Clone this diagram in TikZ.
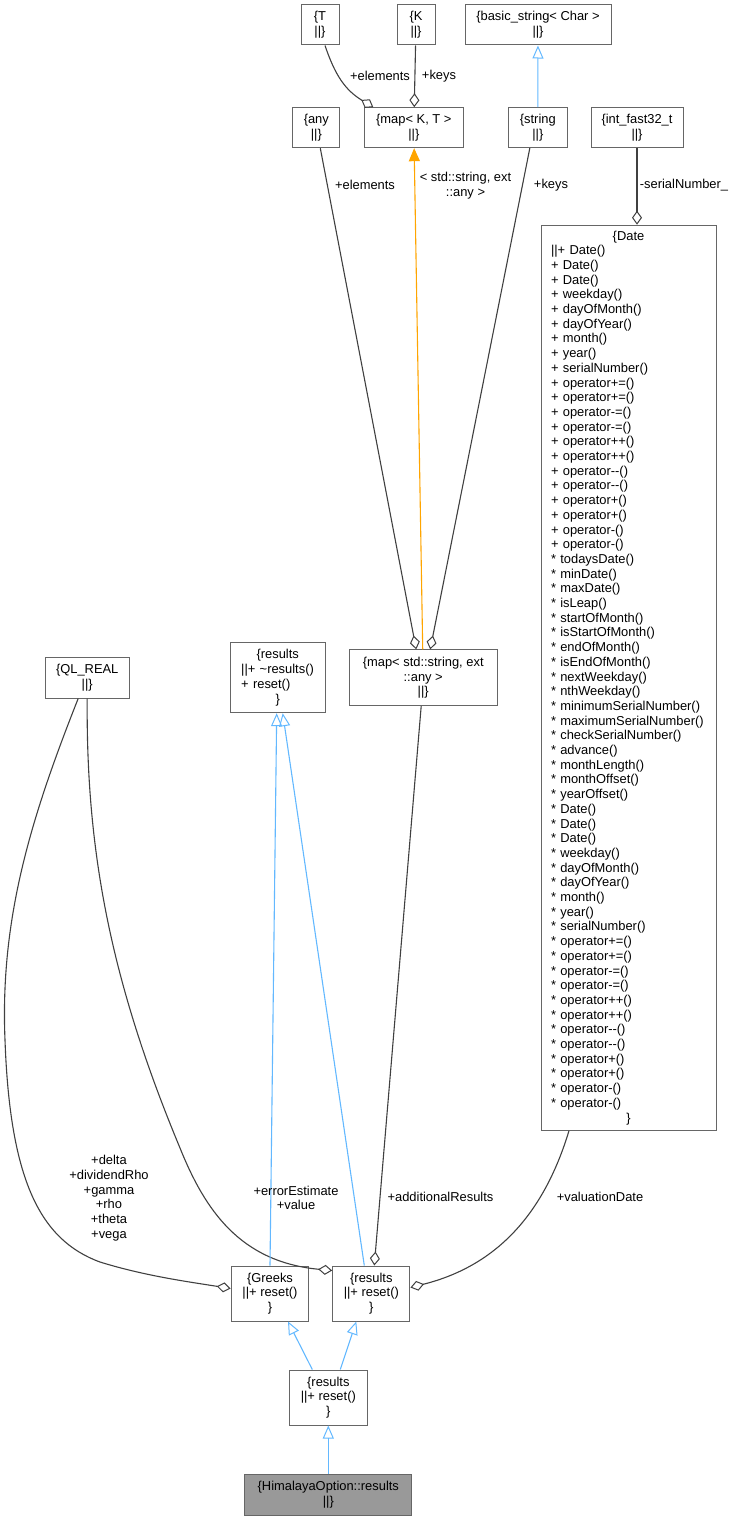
\documentclass[tikz,border=0pt]{standalone}
\usepackage{fontspec}
\setmainfont{Liberation Sans}
\usepackage{xcolor}
\usepackage{tikz}
\usetikzlibrary{
  arrows.meta,
  positioning,
  calc
}
\definecolor{nodeline}{RGB}{102,102,102}
\definecolor{edgegray}{RGB}{64,64,64}
\definecolor{inhblue}{RGB}{99,184,255}
\definecolor{tplorange}{RGB}{255,165,0}
\definecolor{hlfill}{RGB}{153,153,153}
\newcommand{\cenline}[1]{\makebox[\linewidth]{#1}}

\begin{document}
\begin{tikzpicture}[
    x=1pt, y=-1pt,
    clsbox/.style={
        draw=nodeline, fill=white, line width=1pt,
        font=\fontsize{12.9}{14.7}\selectfont,
        align=center, inner sep=0pt
    },
    hlbox/.style={clsbox, fill=hlfill},
    lbl/.style={font=\fontsize{12.9}{14.7}\selectfont, align=center, inner sep=0pt},
    usedge/.style={draw=edgegray, line width=1.1pt,
        -{Diamond[open,length=14pt,width=10pt,line width=1pt]}},
    inhedge/.style={draw=inhblue, line width=1.1pt,
        -{Triangle[open,length=13pt,width=11pt,line width=1pt]}},
    tpledge/.style={draw=tplorange, line width=1.1pt,
        -{Triangle[length=13pt,width=11pt]}}
]
\useasboundingbox (0,0) rectangle (735,1520);
\def\rTop{25}   \def\rSec{127.7}
\def\rMid{677.7}  \def\rLow{1293.5}

\node[clsbox, minimum width=38pt, minimum height=40pt] (T) at (320,\rTop) {\{T\\||\}};

\node[clsbox, minimum width=38pt, minimum height=40pt] (K) at (416,\rTop) {\{K\\||\}};

\node[clsbox, minimum width=146pt, minimum height=40pt] (bstr) at (538,\rTop) {\{basic\_string< Char >\\||\}};

\node[clsbox, minimum width=47pt, minimum height=40pt] (any) at (316.3,\rSec) {\{any\\||\}};

\node[clsbox, minimum width=99pt, minimum height=40pt] (mapKT) at (413.8,\rSec) {\{map< K, T >\\||\}};

\node[clsbox, minimum width=59pt, minimum height=40pt] (string) at (537.8,\rSec) {\{string\\||\}};

\node[clsbox, minimum width=92pt, minimum height=40pt] (int) at (637,\rSec) {\{int\_fast32\_t\\||\}};

\node[clsbox, align=left, text width=155pt, inner xsep=10pt, minimum height=905pt] (Date) at (628.5,\rMid) {%
  \cenline{\{Date}\\
  ||+ Date()\\
  + Date()\\
  + Date()\\
  + weekday()\\
  + dayOfMonth()\\
  + dayOfYear()\\
  + month()\\
  + year()\\
  + serialNumber()\\
  + operator+=()\\
  + operator+=()\\
  + operator-=()\\
  + operator-=()\\
  + operator++()\\
  + operator++()\\
  + operator-{}-()\\
  + operator-{}-()\\
  + operator+()\\
  + operator+()\\
  + operator-()\\
  + operator-()\\
  {*} todaysDate()\\
  {*} minDate()\\
  {*} maxDate()\\
  {*} isLeap()\\
  {*} startOfMonth()\\
  {*} isStartOfMonth()\\
  {*} endOfMonth()\\
  {*} isEndOfMonth()\\
  {*} nextWeekday()\\
  {*} nthWeekday()\\
  {*} minimumSerialNumber()\\
  {*} maximumSerialNumber()\\
  {*} checkSerialNumber()\\
  {*} advance()\\
  {*} monthLength()\\
  {*} monthOffset()\\
  {*} yearOffset()\\
  {*} Date()\\
  {*} Date()\\
  {*} Date()\\
  {*} weekday()\\
  {*} dayOfMonth()\\
  {*} dayOfYear()\\
  {*} month()\\
  {*} year()\\
  {*} serialNumber()\\
  {*} operator+=()\\
  {*} operator+=()\\
  {*} operator-=()\\
  {*} operator-=()\\
  {*} operator++()\\
  {*} operator++()\\
  {*} operator-{}-()\\
  {*} operator-{}-()\\
  {*} operator+()\\
  {*} operator+()\\
  {*} operator-()\\
  {*} operator-()\\
  \cenline{\}}
};

\node[clsbox, minimum width=84pt, minimum height=40.6pt] (QL) at (87.2,\rMid) {\{QL\_REAL\\||\}};

\node[clsbox, align=left, text width=73pt, inner xsep=11pt, minimum height=70pt] (resTop) at (277.7,\rMid) {%
  \cenline{\{results}\\
  ||+ \textasciitilde results()\\
  + reset()\\
  \cenline{\}}
};

\node[clsbox, minimum width=148pt, minimum height=55.7pt] (mapSA) at (423.2,\rMid) {\{map< std::string, ext\\::any >\\||\}};

\node[clsbox, minimum width=77.7pt, minimum height=55pt] (Greeks) at (270,\rLow) {\{Greeks\\||+ reset()\\\}};

\node[clsbox, minimum width=77.3pt, minimum height=55pt] (resM) at (371.3,\rLow) {\{results\\||+ reset()\\\}};

\node[clsbox, minimum width=78pt, minimum height=55pt] (resL) at (328.3,1397.5) {\{results\\||+ reset()\\\}};

\node[hlbox, minimum width=166.7pt, minimum height=41pt] (him) at (328.3,1494.5) {\{HimalayaOption::results\\||\}};

\draw[usedge] ([xshift=5pt]T.south) .. controls (335,75) and (345,90) .. ([xshift=-40.5pt]mapKT.north);
\draw[usedge] (K) -- (mapKT);
\draw[inhedge] (string) -- (bstr);
\draw[tpledge] (mapSA) -- (mapKT);
\draw[usedge] ([xshift=4pt]any.south) -- ([xshift=-7pt]mapSA.north);
\draw[usedge] ([xshift=-8pt]string.south) -- ([xshift=7pt]mapSA.north);
\draw[usedge] (int) -- ([xshift=8.5pt]Date.north);

\draw[usedge] ([xshift=-9pt]QL.south) .. controls (30,820) and (0,920) .. (5,1040)
  .. controls (10,1180) and (40,1240) .. (100,1262)
  .. controls (145,1276) and (190,1282) .. ([yshift=5pt]Greeks.west);
\draw[usedge] (QL.south) .. controls (86,850) and (110,980) .. (180,1148)
  .. controls (205,1210) and (240,1262) .. ([yshift=-5pt]resM.north west);
\draw[usedge] ([xshift=-2pt]mapSA.south) -- ([xshift=3pt]resM.north);
\draw[usedge] ([xshift=-59.5pt]Date.south) .. controls (545,1210) and (500,1265) .. ([yshift=6pt]resM.east);

\draw[inhedge] (Greeks.north) -- ([xshift=-1pt]resTop.south);
\draw[inhedge] ([xshift=-7pt]resM.north) -- ([xshift=5pt]resTop.south);
\draw[inhedge] ([xshift=-16pt]resL.north) -- ([xshift=18pt]Greeks.south);
\draw[inhedge] ([xshift=12pt]resL.north) -- ([xshift=-15pt]resM.south);
\draw[inhedge] (him) -- (resL);

\node[lbl] (lElemT) at (380,76) {+elements};
\node[lbl] (lKeysK) at (439,76) {+keys};
\node[lbl] (lTpl) at (465.5,186) {< std::string, ext\\::any >};
\node[lbl] (lElemA) at (365,185) {+elements};
\node[lbl] (lKeysS) at (551,185) {+keys};
\node[lbl] (lSerial) at (684,185) {-serialNumber\_};
\node[lbl] (lGreeks) at (109,1198) {+delta\\+dividendRho\\+gamma\\+rho\\+theta\\+vega};
\node[lbl] (lErr) at (296,1198) {+errorEstimate\\+value};
\node[lbl] (lAdd) at (440.5,1197) {+additionalResults};
\node[lbl] (lVal) at (600,1197) {+valuationDate};

\end{tikzpicture}
\end{document}
